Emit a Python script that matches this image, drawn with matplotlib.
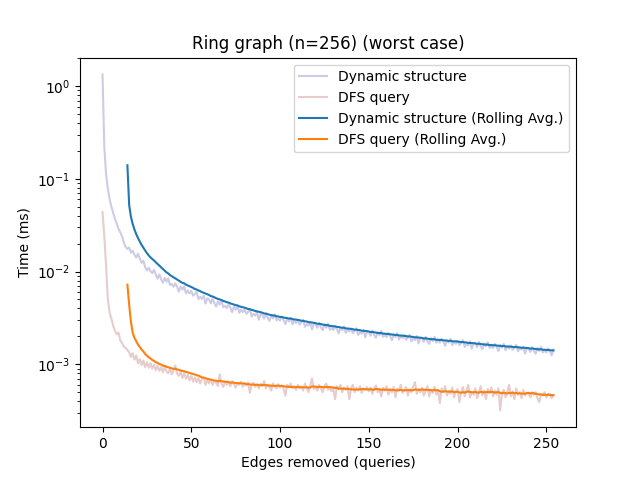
import numpy as np
import pandas as pd
import matplotlib
matplotlib.use("Agg")
import matplotlib.pyplot as plt

# raw timings per query, in microseconds
dyn_us = [
    1340, 215, 112, 78, 60, 50, 43, 37, 33, 29,
    26.5, 24, 20.5, 18.5, 17.5, 18.2, 16.0, 16.8, 15.1, 14.2,
    15.6, 13.8, 12.4, 13.1, 11.2, 10.3, 11.0, 10.1, 9.6, 10.4,
    9.3, 8.37, 9.35, 8.27, 7.57, 8.55, 7.78, 8.45, 7.16, 7.35,
    6.86, 7.46, 6.83, 6.08, 6.92, 6.38, 6.91, 5.81, 6.26, 5.82,
    6.18, 5.49, 5.74, 6.04, 5.04, 5.34, 5.08, 5.51, 4.52, 5.15,
    5.0, 4.54, 5.10, 4.55, 4.20, 4.79, 4.40, 4.83, 4.13, 4.28,
    4.04, 4.42, 4.07, 3.65, 4.18, 3.89, 4.24, 3.59, 3.9, 3.66,
    3.91, 3.50, 3.68, 3.90, 3.28, 3.49, 3.35, 3.66, 3.03, 3.47,
    3.4, 3.11, 3.52, 3.16, 2.94, 3.37, 3.12, 3.45, 2.98, 3.11,
    2.96, 3.25, 3.01, 2.71, 3.11, 2.90, 3.18, 2.71, 2.95, 2.78,
    2.99, 2.68, 2.83, 3.01, 2.54, 2.72, 2.61, 2.87, 2.38, 2.75,
    2.7, 2.47, 2.79, 2.51, 2.33, 2.68, 2.48, 2.74, 2.36, 2.47,
    2.35, 2.58, 2.40, 2.16, 2.49, 2.33, 2.55, 2.18, 2.38, 2.25,
    2.42, 2.17, 2.30, 2.45, 2.07, 2.22, 2.14, 2.35, 1.95, 2.26,
    2.22, 2.03, 2.31, 2.07, 1.93, 2.22, 2.06, 2.29, 1.98, 2.07,
    1.97, 2.17, 2.02, 1.82, 2.10, 1.97, 2.16, 1.85, 2.02, 1.91,
    2.06, 1.84, 1.96, 2.08, 1.76, 1.89, 1.83, 2.02, 1.68, 1.93,
    1.9, 1.74, 1.98, 1.78, 1.66, 1.92, 1.78, 1.97, 1.71, 1.79,
    1.71, 1.88, 1.75, 1.58, 1.82, 1.71, 1.88, 1.61, 1.76, 1.66,
    1.79, 1.61, 1.71, 1.82, 1.54, 1.65, 1.60, 1.76, 1.47, 1.69,
    1.67, 1.53, 1.74, 1.57, 1.46, 1.68, 1.56, 1.73, 1.50, 1.57,
    1.50, 1.66, 1.54, 1.39, 1.61, 1.51, 1.66, 1.42, 1.55, 1.47,
    1.59, 1.43, 1.52, 1.62, 1.38, 1.48, 1.44, 1.55, 1.30, 1.50,
    1.48, 1.36, 1.54, 1.39, 1.30, 1.50, 1.39, 1.55, 1.34, 1.41,
    1.34, 1.48, 1.38, 1.25, 1.44,
]

dfs_us = [
    44, 24, 11.5, 5.0, 3.6, 3.1, 2.6, 2.3, 2.1, 2.2,
    1.8, 1.7, 1.55, 1.5, 1.42, 1.35, 1.2, 1.32, 1.12, 1.24,
    1.02, 1.14, 0.98, 1.1, 0.93, 1.05, 0.92, 1.03, 0.9, 0.99,
    0.86, 0.96, 0.85, 0.93, 0.82, 0.94, 0.84, 0.8, 0.9, 0.78,
    0.86, 0.97, 0.79, 0.75, 0.84, 0.71, 0.8, 0.7, 0.77, 0.67,
    0.75, 0.65, 0.72, 0.64, 0.71, 0.62, 0.7, 0.72, 0.6, 0.68,
    0.62, 0.68, 0.6, 0.66, 0.63, 0.58, 0.78, 0.62, 0.57, 0.65,
    0.6, 0.64, 0.58, 0.66, 0.61, 0.56, 0.63, 0.6, 0.65, 0.57,
    0.62, 0.59, 0.64, 0.49, 0.6, 0.63, 0.57, 0.61, 0.55, 0.62,
    0.58, 0.66, 0.55, 0.6, 0.57, 0.52, 0.62, 0.58, 0.55, 0.61,
    0.56, 0.59, 0.54, 0.46, 0.6, 0.57, 0.62, 0.55, 0.58, 0.53,
    0.6, 0.55, 0.58, 0.52, 0.62, 0.56, 0.5, 0.59, 0.7, 0.54,
    0.57, 0.52, 0.6, 0.55, 0.5, 0.58, 0.62, 0.53, 0.56, 0.51,
    0.55, 0.42, 0.58, 0.54, 0.6, 0.5, 0.56, 0.53, 0.58, 0.42,
    0.55, 0.6, 0.5, 0.56, 0.52, 0.58, 0.49, 0.55, 0.53, 0.57,
    0.51, 0.56, 0.48, 0.55, 0.59, 0.5, 0.54, 0.45, 0.56, 0.52,
    0.58, 0.47, 0.54, 0.5, 0.57, 0.44, 0.55, 0.52, 0.6, 0.49,
    0.53, 0.57, 0.46, 0.54, 0.5, 0.58, 0.64, 0.48, 0.53, 0.5,
    0.56, 0.46, 0.52, 0.58, 0.45, 0.53, 0.49, 0.57, 0.47, 0.52,
    0.38, 0.55, 0.5, 0.58, 0.46, 0.52, 0.48, 0.56, 0.44, 0.51,
    0.54, 0.39, 0.5, 0.57, 0.45, 0.52, 0.6, 0.44, 0.5, 0.47,
    0.55, 0.43, 0.5, 0.58, 0.46, 0.52, 0.42, 0.54, 0.49, 0.56,
    0.45, 0.52, 0.47, 0.55, 0.318, 0.48, 0.53, 0.44, 0.5, 0.6,
    0.45, 0.51, 0.42, 0.55, 0.47, 0.5, 0.43, 0.53, 0.46, 0.49,
    0.48, 0.44, 0.5, 0.47, 0.5, 0.43, 0.39, 0.47, 0.46, 0.5,
    0.44, 0.48, 0.48, 0.43, 0.47,
]

WINDOW = 15

dyn_ms = pd.Series(dyn_us) / 1000.0
dfs_ms = pd.Series(dfs_us) / 1000.0
queries = np.arange(len(dyn_ms))

fig, ax = plt.subplots(figsize=(6.4, 4.8), dpi=100)

ax.plot(queries, dyn_ms, color="darkblue", alpha=0.2, label="Dynamic structure")
ax.plot(queries, dfs_ms, color="darkred", alpha=0.2, label="DFS query")
ax.plot(queries, dyn_ms.rolling(WINDOW).mean(), color="C0",
        label="Dynamic structure (Rolling Avg.)")
ax.plot(queries, dfs_ms.rolling(WINDOW).mean(), color="C1",
        label="DFS query (Rolling Avg.)")

ax.set_yscale("log")
ax.set_title("Ring graph (n=256) (worst case)")
ax.set_xlabel("Edges removed (queries)")
ax.set_ylabel("Time (ms)")
ax.legend(loc="upper right")

fig.savefig("out.png")
